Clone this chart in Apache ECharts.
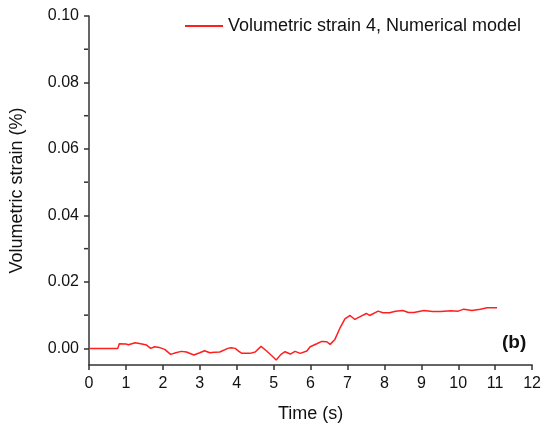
<!DOCTYPE html>
<html><head><meta charset="utf-8">
<script src="https://cdn.jsdelivr.net/npm/echarts@6/dist/echarts.min.js"></script>
<style>html,body{margin:0;padding:0;background:#fff}#c{width:544px;height:428px}</style>
</head><body><div id="c"></div>
<script>
const timeS = [0,0.4,0.78,0.82,1.0,1.07,1.12,1.25,1.4,1.56,1.67,1.78,1.9,2.05,2.21,2.35,2.5,2.64,2.84,3.0,3.13,3.27,3.4,3.54,3.76,3.85,3.96,4.05,4.14,4.36,4.5,4.66,4.81,4.95,5.07,5.2,5.31,5.45,5.58,5.72,5.9,5.99,6.17,6.3,6.44,6.53,6.66,6.8,6.93,7.07,7.2,7.33,7.51,7.6,7.83,7.96,8.14,8.3,8.5,8.65,8.8,9.07,9.3,9.52,9.8,10.0,10.15,10.37,10.6,10.78,11.05];
const strain = [0,0,0,0.0014,0.0013,0.0011,0.0017,0.0017,0.0014,0.001,0,0.0005,0.0003,-0.0003,-0.0018,-0.0013,-0.0009,-0.0011,-0.002,-0.0013,-0.0007,-0.0013,-0.0012,-0.0011,0,0.0002,0,-0.0008,-0.0015,-0.0015,-0.0011,0.0006,-0.0008,-0.0022,-0.0035,-0.0018,-0.001,-0.0017,-0.0009,-0.0015,-0.0008,0.0005,0.0014,0.0021,0.002,0.0012,0.0027,0.0062,0.0089,0.0099,0.0087,0.0095,0.0105,0.0099,0.0112,0.0107,0.0107,0.0112,0.0114,0.0108,0.0108,0.0114,0.0111,0.0111,0.0113,0.0112,0.0118,0.0114,0.0118,0.0122,0.0122];
const seriesName = 'Volumetric strain 4, Numerical model';
const xTitle = 'Time (s)';
const yTitle = 'Volumetric strain (%)';
const panelLabel = '(b)';
const yMajor = [0,0.02,0.04,0.06,0.08,0.1];
const yMinor = [0.01,0.03,0.05,0.07,0.09];

const chart = echarts.init(document.getElementById('c'));
const axisCol = '#333';
const ff = 'Liberation Sans, Arial';
chart.setOption({
  animation:false,
  grid:{left:88,right:11,top:16,bottom:59},
  legend:{show:true,top:12,left:180,itemWidth:38,itemHeight:2,itemGap:7,
    textStyle:{fontFamily:ff,fontSize:18,color:'#111'},
    icon:'rect',data:[seriesName]},
  xAxis:{type:'value',min:0,max:12,interval:1,
    name:xTitle,nameLocation:'middle',nameGap:40,
    nameTextStyle:{fontFamily:ff,fontSize:18,color:'#111'},
    axisLine:{show:true,onZero:false,lineStyle:{color:axisCol,width:1.5}},
    axisTick:{show:true,inside:false,length:5,lineStyle:{color:axisCol,width:1.5}},
    axisLabel:{fontFamily:ff,fontSize:16,color:'#111',margin:11},
    splitLine:{show:false}},
  yAxis:{type:'value',min:-0.005,max:0.1,
    name:yTitle,nameLocation:'middle',nameGap:63,
    nameTextStyle:{fontFamily:ff,fontSize:18,color:'#111'},
    axisLine:{show:true,onZero:false,lineStyle:{color:axisCol,width:1.5}},
    axisTick:{show:true,inside:false,length:5,lineStyle:{color:axisCol,width:1.5},
      customValues:yMajor},
    minorTick:{show:false},
    axisLabel:{fontFamily:ff,fontSize:16,color:'#111',margin:10,
      customValues:yMajor,formatter:v=>v.toFixed(2)},
    splitLine:{show:false}},
  series:[{
    name:seriesName,type:'line',showSymbol:false,
    data:timeS.map((t,i)=>[t,strain[i]]),
    lineStyle:{color:'#ff1f1f',width:1.5},itemStyle:{color:'#ff1f1f'}
  }]
});
const g = yMinor.map(v=>{const p=chart.convertToPixel({yAxisIndex:0},v);return {type:'line',shape:{x1:84,y1:p,x2:88,y2:p},style:{stroke:axisCol,lineWidth:1.5}};});
chart.setOption({graphic:[{type:'text',left:502,top:333,style:{text:panelLabel,fontFamily:ff,fontSize:19,fontWeight:'bold',fill:'#111'}}].concat(g)});
</script></body></html>
